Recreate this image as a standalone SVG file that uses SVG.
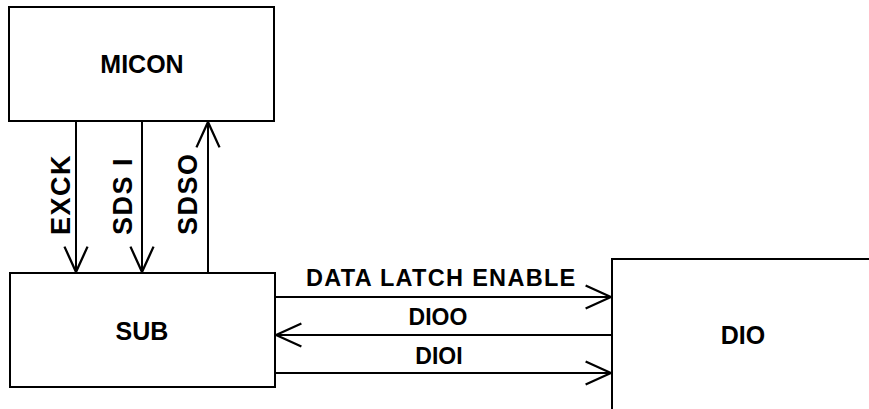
<svg xmlns="http://www.w3.org/2000/svg" width="869" height="409" viewBox="0 0 869 409">
  <style>
    .box { fill: #ffffff; stroke: #000000; stroke-width: 2; }
    .wire { fill: none; stroke: #000000; stroke-width: 2; }
    .lbl { font-family: "Liberation Sans", Arial, sans-serif; font-weight: bold; fill: #000000; }
    .node { font-size: 25px; text-anchor: middle; }
    .sig { font-size: 23px; text-anchor: middle; }
    .vsig { font-size: 27px; letter-spacing: 1.5px; }
  </style>
  <defs>
    <marker id="open-arrow" markerUnits="userSpaceOnUse" markerWidth="30" markerHeight="30" viewBox="-24 -12 26 24" refX="0" refY="0" orient="auto">
      <path d="M-22,-10 L0,0 L-22,10" fill="none" stroke="#000000" stroke-width="2"/>
    </marker>
  </defs>
  <rect width="869" height="409" fill="#ffffff"/>

  <g id="micon">
    <rect class="box" x="9" y="7" width="265" height="114"/>
    <text class="lbl node" x="142" y="73">MICON</text>
  </g>

  <g id="sub">
    <rect class="box" x="10" y="273" width="265" height="114"/>
    <text class="lbl node" x="142" y="340">SUB</text>
  </g>

  <g id="dio">
    <path class="box" d="M612,411 V259 H871"/>
    <text class="lbl node" x="743" y="344">DIO</text>
  </g>

  <g id="connectors">
    <!-- serial lines between MICON and SUB -->
    <line class="wire" x1="76" y1="121" x2="76" y2="272" marker-end="url(#open-arrow)"/>
    <line class="wire" x1="142" y1="121" x2="142" y2="272" marker-end="url(#open-arrow)"/>
    <line class="wire" x1="208" y1="273" x2="208" y2="122" marker-end="url(#open-arrow)"/>
    <text class="lbl vsig" transform="translate(70,235) rotate(-90)">EXCK</text>
    <text class="lbl vsig" transform="translate(132,235) rotate(-90)">SDS I</text>
    <text class="lbl vsig" transform="translate(197,235) rotate(-90)">SDSO</text>

    <!-- parallel lines between SUB and DIO -->
    <line class="wire" x1="275" y1="297" x2="611" y2="297" marker-end="url(#open-arrow)"/>
    <line class="wire" x1="612" y1="335" x2="276" y2="335" marker-end="url(#open-arrow)"/>
    <line class="wire" x1="275" y1="373" x2="611" y2="373" marker-end="url(#open-arrow)"/>
    <text class="lbl" x="306" y="286" font-size="23.5" letter-spacing="1.3">DATA LATCH ENABLE</text>
    <text class="lbl sig" x="438" y="325">DIOO</text>
    <text class="lbl sig" x="439" y="364">DIOI</text>
  </g>
</svg>
